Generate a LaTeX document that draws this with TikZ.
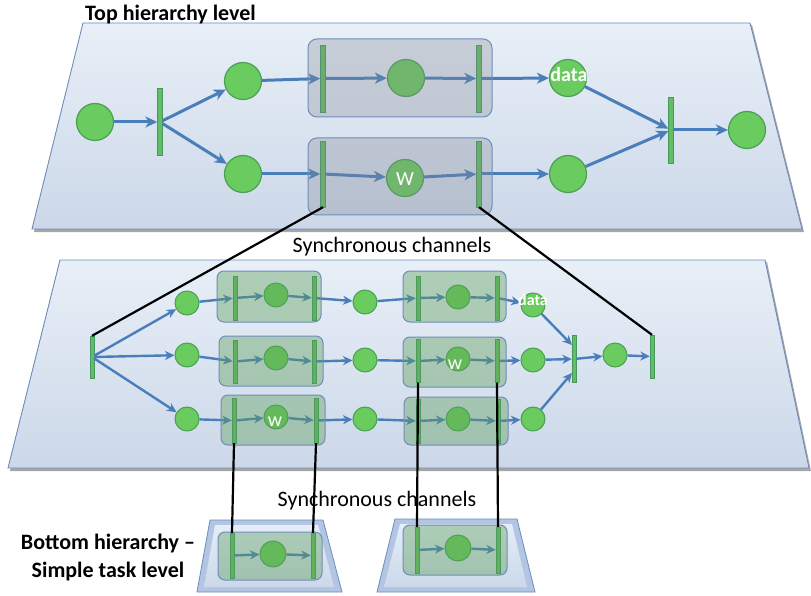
\documentclass[tikz,border=0pt]{standalone}
\usepackage{fontspec}
\setmainfont{Carlito}
\usetikzlibrary{arrows.meta,calc}

\definecolor{planeTop}{RGB}{232,239,247}
\definecolor{planeBot}{RGB}{204,216,233}
\definecolor{planeEdge}{RGB}{110,140,186}
\definecolor{placeFill}{RGB}{106,203,94}
\definecolor{placeEdge}{RGB}{74,160,84}
\definecolor{barFill}{RGB}{98,190,98}
\definecolor{barEdge}{RGB}{70,150,96}
\definecolor{arrowBlue}{RGB}{74,126,187}
\definecolor{greyBox}{RGB}{130,134,146}
\definecolor{greenBox}{RGB}{92,158,88}
\definecolor{boxEdge}{RGB}{112,140,185}
\definecolor{bevelDark}{RGB}{178,198,228}
\definecolor{bevelLight}{RGB}{228,237,248}

\tikzset{
  plane/.style={top color=planeTop, bottom color=planeBot, draw=planeEdge, line width=0.9pt},
  planeshadow/.style={fill=black, opacity=0.35},
  place/.style={circle, fill=placeFill, draw=placeEdge, line width=1.2pt, minimum size=37pt, inner sep=0pt},
  mplace/.style={place, minimum size=24pt, line width=1pt},
  bplace/.style={place, minimum size=26pt, line width=1pt},
  tbar/.style={rectangle, fill=barFill, draw=barEdge, line width=0.4pt, minimum width=5pt, inner sep=0pt},
  mbar/.style={tbar, minimum width=4pt},
  arr/.style={draw=arrowBlue, line width=3pt, -{Stealth[length=12pt,width=11pt,inset=3.5pt]}},
  marr/.style={draw=arrowBlue, line width=2.4pt, -{Stealth[length=9.5pt,width=9pt,inset=3pt]}},
  tbox/.style={rectangle, rounded corners=9pt, draw=boxEdge, line width=1pt, fill=greyBox, fill opacity=0.3, inner sep=0pt},
  mbox/.style={rectangle, rounded corners=7pt, draw=boxEdge, line width=1pt, fill=greenBox, fill opacity=0.4, inner sep=0pt},
  wlbl/.style={text=white, inner sep=0pt, font=\fontsize{20}{20}\selectfont},
  dlbl/.style={text=white, inner sep=0pt, font=\bfseries\fontsize{20}{20}\selectfont},
  chan/.style={black, line width=2.2pt},
  caption/.style={inner sep=0pt, font=\fontsize{22}{22}\selectfont},
  heading/.style={inner sep=0pt, font=\bfseries\fontsize{22}{28}\selectfont},
}

\begin{document}
\begin{tikzpicture}[x=1pt, y=-1pt]
\useasboundingbox (0,0) rectangle (811,596);
\fill[white] (0,0) rectangle (811,596);

% ---------- planes ----------
\fill[planeshadow] (85,25) -- (752,25) -- (804,232) -- (34,232) -- cycle;
\path[plane] (83,23) -- (750,23) -- (802,229) -- (32,229) -- cycle;
\fill[planeshadow] (62,262) -- (767,262) -- (811,471) -- (10,471) -- cycle;
\path[plane] (60,260) -- (765,260) -- (809,468) -- (8,468) -- cycle;

% bottom (bevelled) planes
\path[fill=bevelDark, draw=planeEdge, line width=0.8pt] (210,520) -- (323,520) -- (342,592) -- (197,592) -- cycle;
\path[top color=bevelLight, bottom color=planeBot] (215,525) -- (318,525) -- (334,587) -- (204,587) -- cycle;
\path[fill=bevelDark, draw=planeEdge, line width=0.8pt] (395,519) -- (517,519) -- (535,592) -- (377,592) -- cycle;
\path[top color=bevelLight, bottom color=planeBot] (400,524) -- (512,524) -- (527,587) -- (384,587) -- cycle;

% ---------- top hierarchy level ----------
\node[place] (p0) at (95,122) {};
\node[tbar, minimum height=67pt] (t0) at (160,122) {};
\node[place] (p1) at (243,81) {};
\node[place] (p2) at (243,174) {};
\node[tbar, minimum height=67pt] (L1) at (323,78.5) {};
\node[place] (c1) at (406,78) {};
\node[tbar, minimum height=67pt] (R1) at (479,78.5) {};
\node[tbar, minimum height=66pt] (L2) at (323,174) {};
\node[place] (cW) at (405,178) {};
\node[tbar, minimum height=66pt] (R2) at (479,174) {};
\node[place] (pd) at (568,78) {};
\node[place] (p4) at (568,174) {};
\node[tbar, minimum height=66pt] (t3) at (671,130) {};
\node[place] (p5) at (747,130) {};

\draw[arr] (p0) -- (t0);
\draw[arr] (t0) -- (p1);
\draw[arr] (t0) -- (p2);
\draw[arr] (p1) -- (L1);
\draw[arr] (L1) -- (c1);
\draw[arr] (c1) -- (R1);
\draw[arr] (R1) -- (pd);
\draw[arr] (p2) -- (L2);
\draw[arr] (L2) -- (cW);
\draw[arr] (cW) -- (R2);
\draw[arr] (R2) -- (p4);
\draw[arr] (pd) -- (t3);
\draw[arr] (p4) -- (t3);
\draw[arr] (t3) -- (p5);

\node[tbox, minimum width=184pt, minimum height=78pt] (b1) at (400,78) {};
\node[tbox, minimum width=184pt, minimum height=77pt] (b2) at (400,176.5) {};

\node[wlbl] (wTop) at (405,179) {W};
\node[dlbl] (dTop) at (569,75) {data};

% ---------- middle hierarchy level ----------
\node[mbar, minimum height=42pt] (mT0) at (92,357) {};
\node[mplace] (m11) at (187,303) {};
\node[mplace] (m21) at (187,355) {};
\node[mplace] (m31) at (187,419) {};

\node[mbar, minimum height=44pt] (L11) at (235,298) {};
\node[mplace] (m12) at (276,295) {};
\node[mbar, minimum height=44pt] (R11) at (314,298) {};
\node[mbar, minimum height=43pt] (L21) at (235,361.5) {};
\node[mplace] (m22) at (276,358) {};
\node[mbar, minimum height=43pt] (R21) at (314,361.5) {};
\node[mbar, minimum height=45pt] (L31) at (234,420.5) {};
\node[mplace] (m32) at (276,417) {};
\node[mbar, minimum height=45pt] (R31) at (316,420.5) {};

\node[mplace] (m13) at (365,302) {};
\node[mplace] (m23) at (365,360) {};
\node[mplace] (m33) at (365,419) {};

\node[mbar, minimum height=44pt] (L12) at (418,298) {};
\node[mplace] (m14) at (458,297) {};
\node[mbar, minimum height=44pt] (R12) at (497,298) {};
\node[mbar, minimum height=43pt] (L22) at (418,361) {};
\node[mplace] (m24) at (458,359) {};
\node[mbar, minimum height=43pt] (R22) at (497,361) {};
\node[mbar, minimum height=44pt] (L32) at (418,421) {};
\node[mplace] (m34) at (458,419) {};
\node[mbar, minimum height=44pt] (R32) at (498,421) {};

\node[mplace] (m15) at (533,305) {};
\node[mplace] (m25) at (533,360) {};
\node[mplace] (m35) at (533,419) {};
\node[mbar, minimum height=47pt] (T1) at (574,359) {};
\node[mplace] (m6) at (615,355) {};
\node[mbar, minimum height=43pt] (T2) at (652,356.5) {};
\coordinate (T1a) at (572,345);
\coordinate (T1b) at (572,373);

\draw[marr] (mT0) -- (m11);
\draw[marr] (mT0) -- (m21);
\draw[marr] (mT0) -- (m31);
\draw[marr] (m11) -- (L11);
\draw[marr] (L11) -- (m12);
\draw[marr] (m12) -- (R11);
\draw[marr] (R11) -- (m13);
\draw[marr] (m13) -- (L12);
\draw[marr] (L12) -- (m14);
\draw[marr] (m14) -- (R12);
\draw[marr] (R12) -- (m15);
\draw[marr] (m21) -- (L21);
\draw[marr] (L21) -- (m22);
\draw[marr] (m22) -- (R21);
\draw[marr] (R21) -- (m23);
\draw[marr] (m23) -- (L22);
\draw[marr] (L22) -- (m24);
\draw[marr] (m24) -- (R22);
\draw[marr] (R22) -- (m25);
\draw[marr] (m31) -- (L31);
\draw[marr] (L31) -- (m32);
\draw[marr] (m32) -- (R31);
\draw[marr] (R31) -- (m33);
\draw[marr] (m33) -- (L32);
\draw[marr] (L32) -- (m34);
\draw[marr] (m34) -- (R32);
\draw[marr] (R32) -- (m35);
\draw[marr] (m15) -- (T1a);
\draw[marr] (m25) -- (T1);
\draw[marr] (m35) -- (T1b);
\draw[marr] (T1) -- (m6);
\draw[marr] (m6) -- (T2);

\node[mbox, minimum width=104pt, minimum height=51pt] (mb11) at (269,296.5) {};
\node[mbox, minimum width=104pt, minimum height=50pt] (mb21) at (271,361) {};
\node[mbox, minimum width=104pt, minimum height=50pt] (mb31) at (273,420) {};
\node[mbox, minimum width=103pt, minimum height=51pt] (mb12) at (454.5,296.5) {};
\node[mbox, minimum width=103pt, minimum height=50pt] (mb22) at (454.5,362) {};
\node[mbox, minimum width=104pt, minimum height=48pt] (mb32) at (456,421) {};

\node[wlbl] (wMidA) at (275,422) {w};
\node[wlbl] (wMidB) at (455,365) {w};
\node[dlbl, font=\bfseries\fontsize{16}{16}\selectfont] (dMid) at (533,300) {data};

% ---------- bottom hierarchy level ----------
\node[mbar, minimum height=45pt] (bL1) at (232,555.5) {};
\node[bplace] (bc1) at (273,554) {};
\node[mbar, minimum height=45pt] (bR1) at (313,555.5) {};
\draw[marr] (bL1) -- (bc1);
\draw[marr] (bc1) -- (bR1);
\node[mbox, minimum width=104pt, minimum height=48pt] (bb1) at (270,556) {};

\node[mbar, minimum height=46pt] (bL2) at (417,550) {};
\node[bplace] (bc2) at (458,548) {};
\node[mbar, minimum height=46pt] (bR2) at (498,550) {};
\draw[marr] (bL2) -- (bc2);
\draw[marr] (bc2) -- (bR2);
\node[mbox, minimum width=104pt, minimum height=50pt] (bb2) at (455,550) {};

% ---------- synchronous channels ----------
\draw[chan] (L2.south) -- (mT0.north);
\draw[chan] (R2.south) -- (T2.north);
\draw[chan] (L31.south) -- (bL1.north);
\draw[chan] (R31.south) -- (bR1.north);
\draw[chan] (L22.south) -- (bL2.north);
\draw[chan] (R22.south) -- (bR2.north);

% ---------- texts ----------
\node[heading, anchor=base west] (title) at (85,21) {Top hierarchy level};
\node[caption, anchor=base] (sync1) at (392,252) {Synchronous channels};
\node[caption, anchor=base] (sync2) at (377,506) {Synchronous channels};
\node[heading, align=center, anchor=center] (bottomlbl) at (108,558)
  {Bottom hierarchy –\\Simple task level};
\end{tikzpicture}
\end{document}
